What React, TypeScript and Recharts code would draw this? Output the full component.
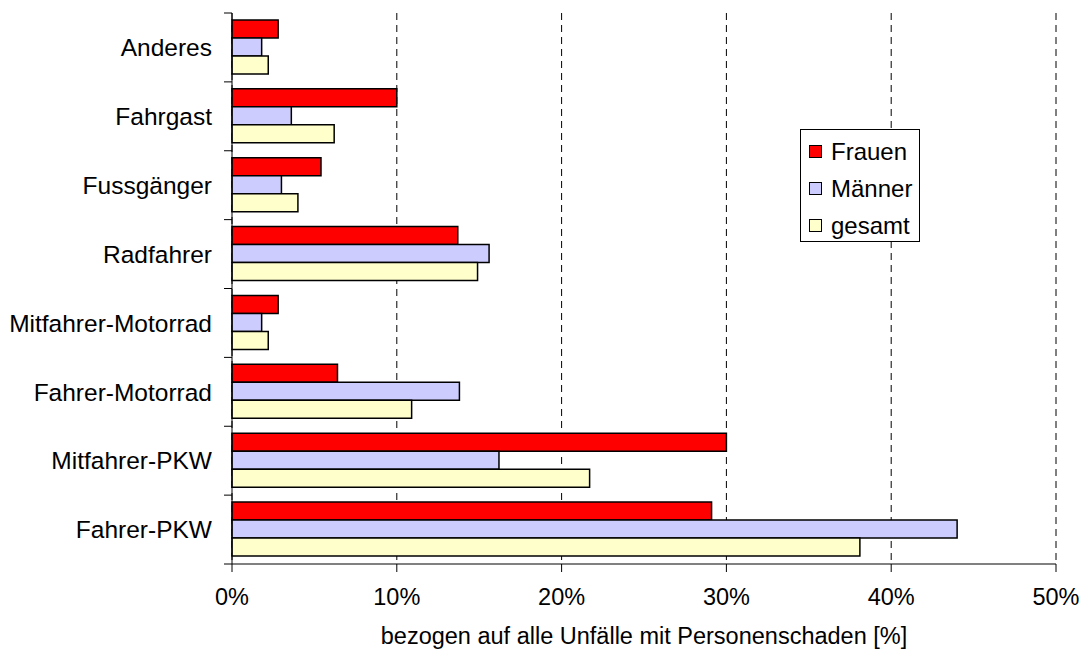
import React from 'react';
import { BarChart, Bar, XAxis, YAxis, CartesianGrid, Legend } from 'recharts';

const categories = [
  'Anderes',
  'Fahrgast',
  'Fussgänger',
  'Radfahrer',
  'Mitfahrer-Motorrad',
  'Fahrer-Motorrad',
  'Mitfahrer-PKW',
  'Fahrer-PKW',
];
const frauen = [2.8, 10.0, 5.4, 13.7, 2.8, 6.4, 30.0, 29.1];
const maenner = [1.8, 3.6, 3.0, 15.6, 1.8, 13.8, 16.2, 44.0];
const gesamt = [2.2, 6.2, 4.0, 14.9, 2.2, 10.9, 21.7, 38.1];
const xTicks = [0, 10, 20, 30, 40, 50];
const seriesKeys = ['frauen', 'maenner', 'gesamt'];
const seriesNames = ['Frauen', 'Männer', 'gesamt'];
const seriesColors = ['#FF0000', '#CCCCFF', '#FFFFCC'];
const xAxisTitle = 'bezogen auf alle Unfälle mit Personenschaden [%]';

const data = categories.map((name, i) => ({
  name,
  frauen: frauen[i],
  maenner: maenner[i],
  gesamt: gesamt[i],
}));

const FONT = '"Liberation Sans", Arial, sans-serif';

const CategoryTick = (props: any) => {
  const { x, y, payload, index, visibleTicksCount } = props;
  const off = payload && payload.offset ? payload.offset : 0;
  return (
    <g>
      <text
        x={x}
        y={y}
        dy="0.355em"
        textAnchor="end"
        fill="#000"
        fontSize={24.5}
        fontFamily={FONT}
      >
        {payload.value}
      </text>
      <line x1={x + 12} x2={x + 20} y1={y - off} y2={y - off} stroke="#000" strokeWidth={1} />
      {index === visibleTicksCount - 1 ? (
        <line x1={x + 12} x2={x + 20} y1={y + off} y2={y + off} stroke="#000" strokeWidth={1} />
      ) : null}
    </g>
  );
};

const LegendBox = () => (
  <div
    style={{
      boxSizing: 'border-box',
      width: 120,
      height: 113,
      border: '1px solid #000',
      background: '#fff',
      paddingTop: 3,
      fontFamily: FONT,
      fontSize: 24,
      color: '#000',
    }}
  >
    {seriesNames.map((n, i) => (
      <div
        key={n}
        style={{ height: 37, display: 'flex', alignItems: 'center', paddingLeft: 8 }}
      >
        <span
          style={{
            display: 'inline-block',
            boxSizing: 'border-box',
            width: 13,
            height: 13,
            background: seriesColors[i],
            border: '1px solid #000',
            marginRight: 9,
          }}
        />
        <span style={{ lineHeight: '24px' }}>{n}</span>
      </div>
    ))}
  </div>
);

export default function App() {
  return (
    <div style={{ position: 'absolute', left: 0, top: 0, background: '#fff' }}>
      <BarChart
        width={1083}
        height={653}
        data={data}
        layout="vertical"
        margin={{ top: 13, right: 27, bottom: 0, left: 0 }}
        barCategoryGap="10%"
        barGap={0}
        style={{ fontFamily: FONT }}
      >
        <CartesianGrid horizontal={false} stroke="#000" strokeDasharray="7 5" />
        <XAxis
          type="number"
          domain={[0, 50]}
          ticks={xTicks}
          tickFormatter={(v: number) => `${v}%`}
          height={89}
          tickSize={8}
          tickMargin={16}
          axisLine={{ stroke: '#808080', strokeWidth: 2 }}
          tickLine={{ stroke: '#000' }}
          tick={{ fill: '#000', fontSize: 23.5, fontFamily: FONT }}
          label={{
            value: xAxisTitle,
            position: 'insideBottom',
            offset: 9,
            fill: '#000',
            fontSize: 23.5,
            fontFamily: FONT,
          }}
        />
        <YAxis
          type="category"
          dataKey="name"
          width={232}
          interval={0}
          tickSize={8}
          tickMargin={12}
          tickLine={false}
          axisLine={{ stroke: '#000', strokeWidth: 1 }}
          tick={<CategoryTick />}
        />
        <Legend
          layout="horizontal"
          verticalAlign="middle"
          align="center"
          content={<LegendBox />}
          wrapperStyle={{ left: 800, top: 129, width: 120, height: 113 }}
        />
        {seriesKeys.map((k, i) => (
          <Bar
            key={k}
            dataKey={k}
            name={seriesNames[i]}
            fill={seriesColors[i]}
            stroke="#000"
            strokeWidth={1.5}
            isAnimationActive={false}
          />
        ))}
      </BarChart>
    </div>
  );
}
